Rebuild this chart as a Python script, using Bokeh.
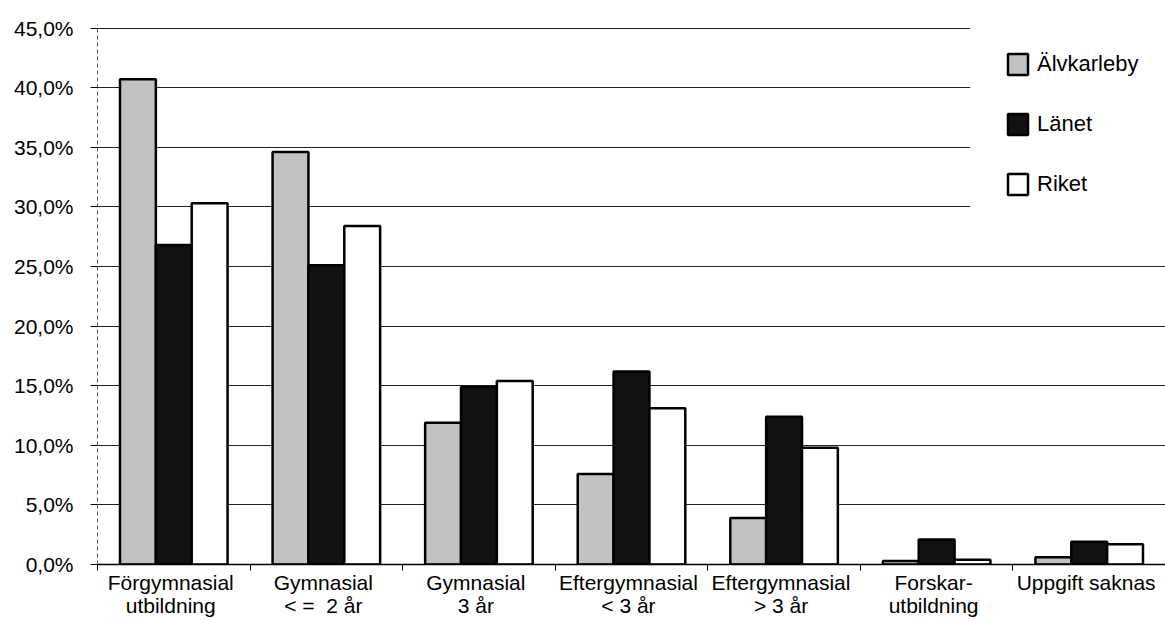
from bokeh.plotting import figure
from bokeh.models import LinearAxis, FixedTicker, ColumnDataSource, BoxAnnotation
from bokeh.embed import file_html
from bokeh.resources import INLINE

categories = ["Förgymnasial\nutbildning", "Gymnasial\n< =\u00a0 2 år", "Gymnasial\n3 år",
              "Eftergymnasial\n< 3 år", "Eftergymnasial\n> 3 år", "Forskar-\nutbildning",
              "Uppgift saknas"]
alvkarleby = [40.7, 34.6, 11.9, 7.6, 3.9, 0.3, 0.6]
lanet = [26.8, 25.1, 14.9, 16.2, 12.4, 2.1, 1.9]
riket = [30.3, 28.4, 15.4, 13.1, 9.8, 0.4, 1.7]
series_names = ["Älvkarleby", "Länet", "Riket"]
y_ticks = [0, 5, 10, 15, 20, 25, 30, 35, 40, 45]
y_labels = ["0,0%", "5,0%", "10,0%", "15,0%", "20,0%", "25,0%", "30,0%", "35,0%", "40,0%", "45,0%"]

FONT = "Liberation Sans"

n = len(categories)
centers = [i + 0.5 for i in range(n)]

p = figure(width=1165, height=622, x_range=(0, n), y_range=(0, 45.3),
           x_axis_location=None, toolbar_location=None, output_backend="svg",
           min_border_left=97, min_border_right=0, min_border_top=24, min_border_bottom=58)
p.outline_line_color = None
p.background_fill_color = "white"
p.border_fill_color = "white"

# white area behind the legend (gridlines stop there in the original)
p.add_layout(BoxAnnotation(left=5.72, bottom=27.5, fill_color="white", fill_alpha=1,
                           line_color=None))

bw = 0.235
fills = ["#c2c2c2", "#111111", "#ffffff"]
for off, vals, fc, name in zip([-bw, 0.0, bw], [alvkarleby, lanet, riket], fills, series_names):
    src = ColumnDataSource(dict(x=[c + off for c in centers], top=vals))
    p.vbar(x="x", top="top", width=bw, bottom=0, source=src,
           fill_color=fc, line_color="black", line_width=2.5, legend_label=name)

# y axis
yt = FixedTicker(ticks=y_ticks)
p.yaxis.ticker = yt
p.ygrid.ticker = yt
p.yaxis.major_label_overrides = dict(zip(y_ticks, y_labels))
p.yaxis.major_label_text_font = FONT
p.yaxis.major_label_text_font_size = "21px"
p.yaxis.major_label_text_color = "black"
p.yaxis.axis_line_color = "#555555"
p.yaxis.axis_line_dash = "4 3"
p.yaxis.axis_line_width = 1
p.yaxis.major_tick_out = 7
p.yaxis.major_tick_in = 0
p.yaxis.major_tick_line_color = "black"
p.yaxis.minor_tick_line_color = None
p.yaxis.major_label_standoff = 17
p.ygrid.grid_line_color = "#222222"
p.ygrid.grid_line_width = 1.2
p.xgrid.visible = False

# x axis labels
shift = 0.02
label_pos = [c - shift for c in centers]
bounds = list(range(n + 1))
xa = LinearAxis(ticker=FixedTicker(ticks=label_pos, minor_ticks=bounds))
xa.major_label_overrides = dict(zip(label_pos, categories))
xa.major_label_text_font = FONT
xa.major_label_text_font_size = "21px"
xa.major_label_text_color = "black"
xa.major_label_text_line_height = 1.0
xa.major_tick_out = 0
xa.major_tick_in = 0
xa.minor_tick_out = 6
xa.minor_tick_in = 0
xa.minor_tick_line_color = "black"
xa.major_label_standoff = 0
xa.axis_line_color = "black"
xa.axis_line_width = 1.5
p.add_layout(xa, "below")

# legend
lg = p.legend[0]
lg.location = (908, 367)
lg.padding = 0
lg.glyph_width = 25
lg.glyph_height = 26
lg.label_height = 26
lg.label_standoff = 7
lg.spacing = 34
lg.border_line_color = None
lg.background_fill_color = "white"
lg.background_fill_alpha = 1
lg.label_text_font = FONT
lg.label_text_font_size = "22px"
lg.label_text_color = "black"
lg.margin = 0

open("out.html", "w").write(file_html(p, INLINE))
